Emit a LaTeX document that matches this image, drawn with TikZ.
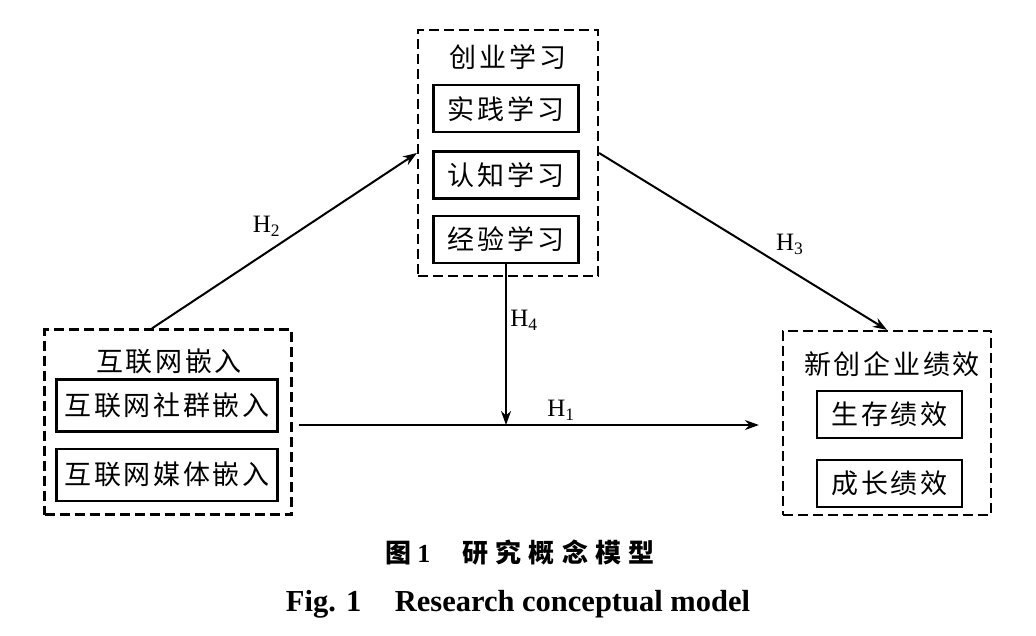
\documentclass[tikz,border=0pt]{standalone}
\usepackage{fontspec}
\setmainfont{Liberation Serif}
\newfontfamily\cjk[LetterSpace=10]{Noto Sans CJK SC}
\newfontfamily\cjkcap[LetterSpace=28]{Noto Sans CJK SC}
\usetikzlibrary{positioning,arrows.meta,calc}

\begin{document}
\begin{tikzpicture}[
  x=1pt, y=-1pt,
  font=\cjk\fontsize{27}{32}\selectfont,
  group/.style={draw, line width=2.2pt, dash pattern=on 10pt off 5pt, inner sep=0pt},
  item/.style={draw, line width=2.2pt, minimum width=145pt, minimum height=47pt, inner sep=0pt},
  arr/.style={-{Stealth[length=14pt,width=10pt]}, line width=2pt},
  hlab/.style={font=\rmfamily\fontsize{25}{29}\selectfont}
]
\useasboundingbox (0,0) rectangle (1036,636);
% mediator
\node[group, minimum width=180pt, minimum height=246pt] (learn) at (508,153) {};
\node (learnT) at ($(learn.north)+(0,28)$) {创业学习};
\node[item] (prac) at ($(learn.north)+(-2,80)$) {实践学习};
\node[item, below=17pt of prac] (cog) {认知学习};
\node[item, below=15pt of cog] (exp) {经验学习};
% independent variable
\node[group, minimum width=247pt, minimum height=185pt] (embed) at (168,422) {};
\node (embedT) at ($(embed.north)+(1,33)$) {互联网嵌入};
\node[item, minimum width=221pt, minimum height=52pt] (social) at ($(embed.north)+(-1,77)$) {互联网社群嵌入};
\node[item, minimum width=221pt, minimum height=52pt, below=15pt of social] (media) {互联网媒体嵌入};
% dependent variable
\node[group, minimum width=208pt, minimum height=184pt] (perf) at (887,423) {};
\node (perfT) at ($(perf.north)+(5,34)$) {新创企业绩效};
\node[item] (surv) at ($(perf.north)+(2.5,84.5)$) {生存绩效};
\node[item, below=20pt of surv] (grow) {成长绩效};
% paths
\coordinate (h1s) at ($(embed.east)+(6,3)$);
\coordinate (h1e) at ($(perf.west)+(-23,2)$);
\draw[arr] ($(embed.north)+(-16,0)$) -- node[hlab, above left, pos=0.5]{H\textsubscript{2}} (learn.west);
\draw[arr] (learn.east) -- node[hlab, above right, pos=0.6]{H\textsubscript{3}} (perf.north);
\draw[arr] (h1s) -- node[hlab, above, pos=0.57]{H\textsubscript{1}} (h1e);
\draw[arr] (exp.south) -- node[hlab, right, pos=0.35]{H\textsubscript{4}} (exp.south |- h1s);
% caption
\node[font=\cjkcap\bfseries\fontsize{26}{30}\selectfont] (capcn) at (520,553) {图\hspace{6pt}{\rmfamily\bfseries 1}\hspace{32pt}研究概念模型};
\node[font=\rmfamily\bfseries\fontsize{30.5}{34}\selectfont] (capen) at (518,604) {Fig. 1\hspace{1.1em}Research conceptual model};
\end{tikzpicture}
\end{document}
